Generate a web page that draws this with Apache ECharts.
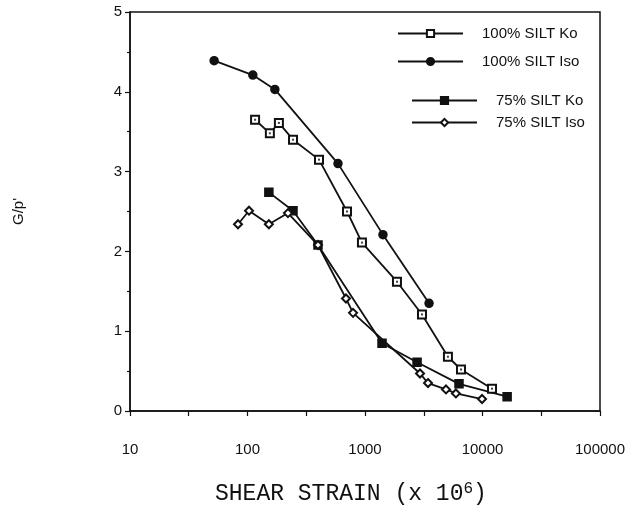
<!DOCTYPE html>
<html>
<head>
<meta charset="utf-8">
<script src="https://cdn.jsdelivr.net/npm/echarts@6/dist/echarts.min.js"></script>
<style>html,body{margin:0;padding:0;background:#fff}#c{width:639px;height:506px}</style>
</head>
<body>
<div id="c"></div>
<script>
// ---- data ----
const seriesNames = ['100% SILT Ko', '100% SILT Iso', '75% SILT Ko', '75% SILT Iso'];
const ko100X = [116, 155, 185, 244, 406, 703, 942, 1871, 3055, 5080, 6560, 12050];
const ko100Y = [3.65, 3.48, 3.61, 3.40, 3.15, 2.50, 2.11, 1.62, 1.21, 0.68, 0.52, 0.28];
const iso100X = [52, 111, 171, 589, 1422, 3508];
const iso100Y = [4.39, 4.21, 4.03, 3.10, 2.21, 1.35];
const ko75X = [152, 244, 398, 1396, 2774, 6310, 16200];
const ko75Y = [2.74, 2.51, 2.08, 0.85, 0.61, 0.34, 0.18];
const iso75X = [83, 103, 152, 221, 398, 689, 791, 2940, 3436, 4890, 5940, 9910];
const iso75Y = [2.34, 2.51, 2.34, 2.48, 2.08, 1.41, 1.23, 0.47, 0.35, 0.27, 0.22, 0.15];
const xTickLabels = ['10', '100', '1000', '10000', '100000'];
const yTickLabels = ['0', '1', '2', '3', '4', '5'];

const ink = '#111';
const pairs = (xs, ys) => xs.map((x, i) => [x, ys[i]]);

function lineSeries(name, data, symbol, size) {
  return {
    name, type: 'line', data, symbol, symbolSize: size,
    lineStyle: { color: ink, width: 1.8 },
    itemStyle: { color: ink, borderColor: ink, borderWidth: 1.5 },
    emphasis: { disabled: true },
    z: 3
  };
}

const chart = echarts.init(document.getElementById('c'), null, { renderer: 'canvas' });
const legendCommon = {
  orient: 'vertical', padding: 0, itemWidth: 65, itemHeight: 9,
  textStyle: { fontFamily: 'Liberation Sans', fontSize: 15, color: ink, padding: [0, 0, 0, 14], lineHeight: 14 },
  inactiveColor: ink, selectedMode: false
};
chart.setOption({
  animation: false,
  backgroundColor: '#fff',
  title: {
    left: 210, top: 476,
    text: '{a|SHEAR STRAIN (x 10}{b|6}{a|)}',
    textStyle: {
      fontWeight: 'normal',
      rich: {
        a: { fontFamily: 'Liberation Mono', fontSize: 23, fontWeight: 'normal', color: ink, lineHeight: 26 },
        b: { fontFamily: 'Liberation Mono', fontSize: 16, fontWeight: 'normal', color: ink, verticalAlign: 'top', padding: [0, 0, 9, 0] }
      }
    }
  },
  legend: [
    Object.assign({}, legendCommon, { left: 397, top: 26, itemGap: 13, data: [seriesNames[0], seriesNames[1]] }),
    Object.assign({}, legendCommon, { left: 411, top: 93, itemGap: 7, data: [seriesNames[2], seriesNames[3]] })
  ],
  grid: { left: 130, right: 39, top: 12, bottom: 95, show: true, borderColor: ink, borderWidth: 1.5, backgroundColor: 'transparent' },
  xAxis: {
    type: 'log', logBase: 10, min: 10, max: 100000, interval: 0.5,
    axisLine: { lineStyle: { color: ink, width: 1.5 } },
    axisTick: { show: true, length: 5, lineStyle: { color: ink, width: 1.2 } },
    minorTick: { show: false },
    splitLine: { show: false },
    axisLabel: {
      margin: 31, fontFamily: 'Liberation Sans', fontSize: 15, color: ink, showMinLabel: true, showMaxLabel: true,
      formatter: v => { const s = String(Math.round(v)); return xTickLabels.includes(s) ? s : ''; }
    }
  },
  yAxis: {
    type: 'value', min: 0, max: 5, interval: 1,
    name: "G/p'", nameLocation: 'middle', nameRotate: 90, nameGap: 104,
    nameTextStyle: { fontFamily: 'Liberation Sans', fontSize: 15, color: ink },
    axisLine: { show: true, lineStyle: { color: ink, width: 1.5 } },
    axisTick: { show: true, length: 5, lineStyle: { color: ink, width: 1.2 } },
    minorTick: { show: true, splitNumber: 2, length: 3, lineStyle: { color: ink, width: 1.2 } },
    splitLine: { show: false },
    axisLabel: {
      margin: 8, fontFamily: 'Liberation Sans', fontSize: 15, color: ink,
      formatter: v => yTickLabels[Math.round(v)]
    }
  },
  series: [
    lineSeries(seriesNames[0], pairs(ko100X, ko100Y), 'emptyRect', 8),
    lineSeries(seriesNames[1], pairs(iso100X, iso100Y), 'circle', 8),
    lineSeries(seriesNames[2], pairs(ko75X, ko75Y), 'rect', 8),
    lineSeries(seriesNames[3], pairs(iso75X, iso75Y), 'emptyDiamond', 8),
    {
      name: 'ko100dot', type: 'scatter', data: pairs(ko100X, ko100Y), symbol: 'rect', symbolSize: 2,
      itemStyle: { color: ink }, emphasis: { disabled: true }, z: 4, silent: true
    }
  ]
});
</script>
</body>
</html>
